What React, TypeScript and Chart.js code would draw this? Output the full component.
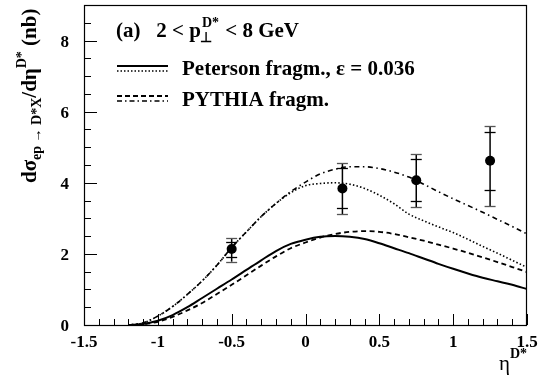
import { useEffect, useRef } from "react";
import { Chart, registerables } from "chart.js";
Chart.register(...registerables);

// pseudorapidity grid of the theory curves
const ETA = [-1.2, -1.1, -1.0, -0.9, -0.8, -0.7, -0.6, -0.5, -0.4, -0.3, -0.2, -0.1, 0.0, 0.1, 0.2, 0.3, 0.4, 0.5, 0.6, 0.7, 0.8, 0.9, 1.0, 1.1, 1.2, 1.3, 1.4, 1.5];
// Peterson fragmentation (solid)
const PETERSON_SOLID = [0, 0.03, 0.12, 0.28, 0.5, 0.76, 1.02, 1.28, 1.55, 1.82, 2.08, 2.28, 2.4, 2.48, 2.5, 2.48, 2.42, 2.3, 2.16, 2.02, 1.87, 1.72, 1.58, 1.45, 1.33, 1.23, 1.13, 1.01];
// Peterson fragmentation (dotted)
const PETERSON_DOTTED = [0, 0.06, 0.25, 0.52, 0.86, 1.24, 1.68, 2.18, 2.62, 3.05, 3.42, 3.72, 3.92, 3.98, 4.0, 3.96, 3.84, 3.65, 3.41, 3.12, 2.93, 2.76, 2.6, 2.41, 2.21, 2.02, 1.82, 1.62];
// PYTHIA fragmentation (dashed)
const PYTHIA_DASHED = [0, 0.02, 0.09, 0.23, 0.41, 0.62, 0.87, 1.13, 1.4, 1.67, 1.93, 2.16, 2.32, 2.46, 2.56, 2.62, 2.64, 2.62, 2.56, 2.47, 2.37, 2.26, 2.15, 2.03, 1.9, 1.77, 1.63, 1.49];
// PYTHIA fragmentation (dash-dotted)
const PYTHIA_DASHDOT = [0, 0.06, 0.25, 0.52, 0.86, 1.24, 1.68, 2.18, 2.62, 3.05, 3.42, 3.75, 4.02, 4.25, 4.38, 4.45, 4.45, 4.4, 4.3, 4.16, 3.96, 3.75, 3.55, 3.36, 3.17, 2.97, 2.77, 2.56];

// measured data
const DATA_ETA = [-0.5, 0.25, 0.75, 1.25];
const DATA_SIGMA = [2.14, 3.84, 4.07, 4.62];
const STAT_HI = [2.34, 4.41, 4.66, 5.44];
const STAT_LO = [1.92, 3.29, 3.5, 3.8];
const TOT_HI = [2.44, 4.55, 4.8, 5.59];
const TOT_LO = [1.78, 3.12, 3.31, 3.34];

// axes
const X_TICKS = [-1.5, -1, -0.5, 0, 0.5, 1, 1.5];
const X_TICK_LABELS = ["-1.5", "-1", "-0.5", "0", "0.5", "1", "1.5"];
const Y_TICKS = [0, 2, 4, 6, 8];
const Y_TICK_LABELS = ["0", "2", "4", "6", "8"];
const X_MIN = -1.5, X_MAX = 1.5, Y_MIN = 0, Y_MAX = 9;

const SERIF = '"Liberation Serif", "Times New Roman", serif';
const f = (size: number, bold = true) => `${bold ? "bold " : ""}${size}px ${SERIF}`;

type Run = { t: string; size: number; dy?: number; bold?: boolean };
function drawRuns(ctx: CanvasRenderingContext2D, runs: Run[], x: number, y: number) {
  let cx = x;
  for (const r of runs) {
    ctx.font = f(r.size, r.bold !== false);
    ctx.fillText(r.t, cx, y + (r.dy || 0));
    cx += ctx.measureText(r.t).width;
  }
  return cx;
}

const overlay = {
  id: "overlay",
  beforeDatasetsDraw(chart: any) {
    const ctx = chart.ctx as CanvasRenderingContext2D;
    const xs = chart.scales.x, ys = chart.scales.y;
    ctx.save();
    for (let i = 0; i < DATA_ETA.length; i++) {
      const px = xs.getPixelForValue(DATA_ETA[i]);
      ctx.strokeStyle = "#000";
      ctx.lineWidth = 1.5;
      ctx.beginPath();
      ctx.moveTo(px, ys.getPixelForValue(TOT_LO[i]));
      ctx.lineTo(px, ys.getPixelForValue(TOT_HI[i]));
      ctx.stroke();
      const cap = (v: number, col: string) => {
        const py = Math.round(ys.getPixelForValue(v)) + 0.5;
        ctx.strokeStyle = col;
        ctx.lineWidth = 1.3;
        ctx.beginPath();
        ctx.moveTo(px - 5.5, py);
        ctx.lineTo(px + 5.5, py);
        ctx.stroke();
      };
      cap(TOT_LO[i], "#555");
      cap(TOT_HI[i], "#555");
      cap(STAT_LO[i], "#000");
      cap(STAT_HI[i], "#000");
    }
    ctx.restore();
  },
  afterDraw(chart: any) {
    const ctx = chart.ctx as CanvasRenderingContext2D;
    const xs = chart.scales.x, ys = chart.scales.y;
    const a = chart.chartArea;
    ctx.save();
    ctx.fillStyle = "#000";
    ctx.strokeStyle = "#000";
    // frame
    ctx.lineWidth = 1.2;
    ctx.strokeRect(a.left + 0.5, a.top + 0.5, a.right - a.left - 1, a.bottom - a.top);
    // x ticks
    ctx.lineWidth = 1;
    for (let k = 0; k <= 30; k++) {
      const v = X_MIN + k * 0.1;
      const px = Math.round(xs.getPixelForValue(v)) + 0.5;
      const len = k % 5 === 0 ? 11 : 6;
      ctx.beginPath();
      ctx.moveTo(px, a.bottom);
      ctx.lineTo(px, a.bottom - len);
      ctx.stroke();
    }
    // y ticks
    for (let k = 0; k <= 18; k++) {
      const v = Y_MIN + k * 0.5;
      const py = Math.round(ys.getPixelForValue(v)) + 0.5;
      const len = k % 4 === 0 ? 13 : 7;
      ctx.beginPath();
      ctx.moveTo(a.left, py);
      ctx.lineTo(a.left + len, py);
      ctx.stroke();
    }
    // tick labels
    ctx.font = f(17);
    ctx.textAlign = "center";
    ctx.textBaseline = "alphabetic";
    X_TICKS.forEach((v, i) => {
      ctx.fillText(X_TICK_LABELS[i], xs.getPixelForValue(v), a.bottom + 22);
    });
    ctx.textAlign = "right";
    Y_TICKS.forEach((v, i) => {
      ctx.fillText(Y_TICK_LABELS[i], 69, ys.getPixelForValue(v) + 6);
    });
    // x title
    ctx.textAlign = "left";
    ctx.font = f(21, false);
    const eta = "η";
    const etaW = ctx.measureText(eta).width;
    ctx.font = f(14);
    const supW = ctx.measureText("D*").width;
    const xEnd = a.right;
    const xStart = xEnd - supW - etaW;
    ctx.font = f(21, false);
    ctx.fillText(eta, xStart, 370);
    ctx.font = f(14);
    ctx.fillText("D*", xStart + etaW, 358);
    // y title (rotated)
    ctx.save();
    ctx.translate(36, 183);
    ctx.rotate(-Math.PI / 2);
    drawRuns(ctx, [
      { t: "dσ", size: 21 },
      { t: "ep → D*X", size: 14, dy: 5 },
      { t: "/dη", size: 21 },
      { t: "D*", size: 14, dy: -10 },
      { t: " (nb)", size: 21 },
    ], 0, 0);
    ctx.restore();
    // legend header
    let cx = drawRuns(ctx, [{ t: "(a)   2 < p", size: 21 }], 116, 37);
    ctx.font = f(14);
    ctx.fillText("⊥", cx - 1, 42);
    ctx.fillText("D*", cx + 1, 27);
    cx += ctx.measureText("D*").width + 2;
    drawRuns(ctx, [{ t: " < 8 GeV", size: 21 }], cx, 37);
    // legend lines
    const seg = (y: number, dash: number[], w: number) => {
      ctx.setLineDash(dash);
      ctx.lineWidth = w;
      ctx.beginPath();
      ctx.moveTo(117, y);
      ctx.lineTo(168, y);
      ctx.stroke();
    };
    seg(66, [], 2);
    seg(71, [1.5, 2], 1.5);
    seg(96, [5, 3], 1.8);
    seg(101, [5, 3, 1.5, 3], 1.5);
    ctx.setLineDash([]);
    drawRuns(ctx, [{ t: "Peterson fragm., ε = 0.036", size: 21 }], 182, 75);
    drawRuns(ctx, [{ t: "PYTHIA fragm.", size: 21 }], 182, 106);
    ctx.restore();
  },
};

const curve = (ys: number[], dash: number[], width: number) => ({
  type: "line" as const,
  data: ETA.map((x, i) => ({ x, y: ys[i] })),
  borderColor: "#000",
  borderWidth: width,
  borderDash: dash,
  pointRadius: 0,
  fill: false,
  showLine: true,
  cubicInterpolationMode: "monotone" as const,
});

export default function App() {
  const ref = useRef<HTMLCanvasElement>(null);
  useEffect(() => {
    const chart = new Chart(ref.current!, {
      type: "scatter",
      data: {
        datasets: [
          curve(PETERSON_SOLID, [], 2),
          curve(PETERSON_DOTTED, [1.5, 2.2], 1.6),
          curve(PYTHIA_DASHED, [5, 3.5], 1.8),
          curve(PYTHIA_DASHDOT, [5, 3.5, 1.5, 3.5], 1.6),
          {
            type: "scatter",
            data: DATA_ETA.map((x, i) => ({ x, y: DATA_SIGMA[i] })),
            pointRadius: 5,
            pointBackgroundColor: "#000",
            pointBorderWidth: 0,
          } as any,
        ] as any,
      },
      options: {
        animation: false,
        responsive: false,
        layout: { padding: { left: 84, right: 15, top: 3, bottom: 54 } },
        scales: {
          x: { type: "linear", min: X_MIN, max: X_MAX, display: false },
          y: { type: "linear", min: Y_MIN, max: Y_MAX, display: false },
        },
        plugins: { legend: { display: false }, tooltip: { enabled: false } },
      },
      plugins: [overlay],
    });
    return () => chart.destroy();
  }, []);
  return (
    <div style={{ position: "fixed", left: 0, top: 0, width: 542, height: 379, background: "#fff" }}>
      <canvas ref={ref} width={542} height={379} />
    </div>
  );
}
